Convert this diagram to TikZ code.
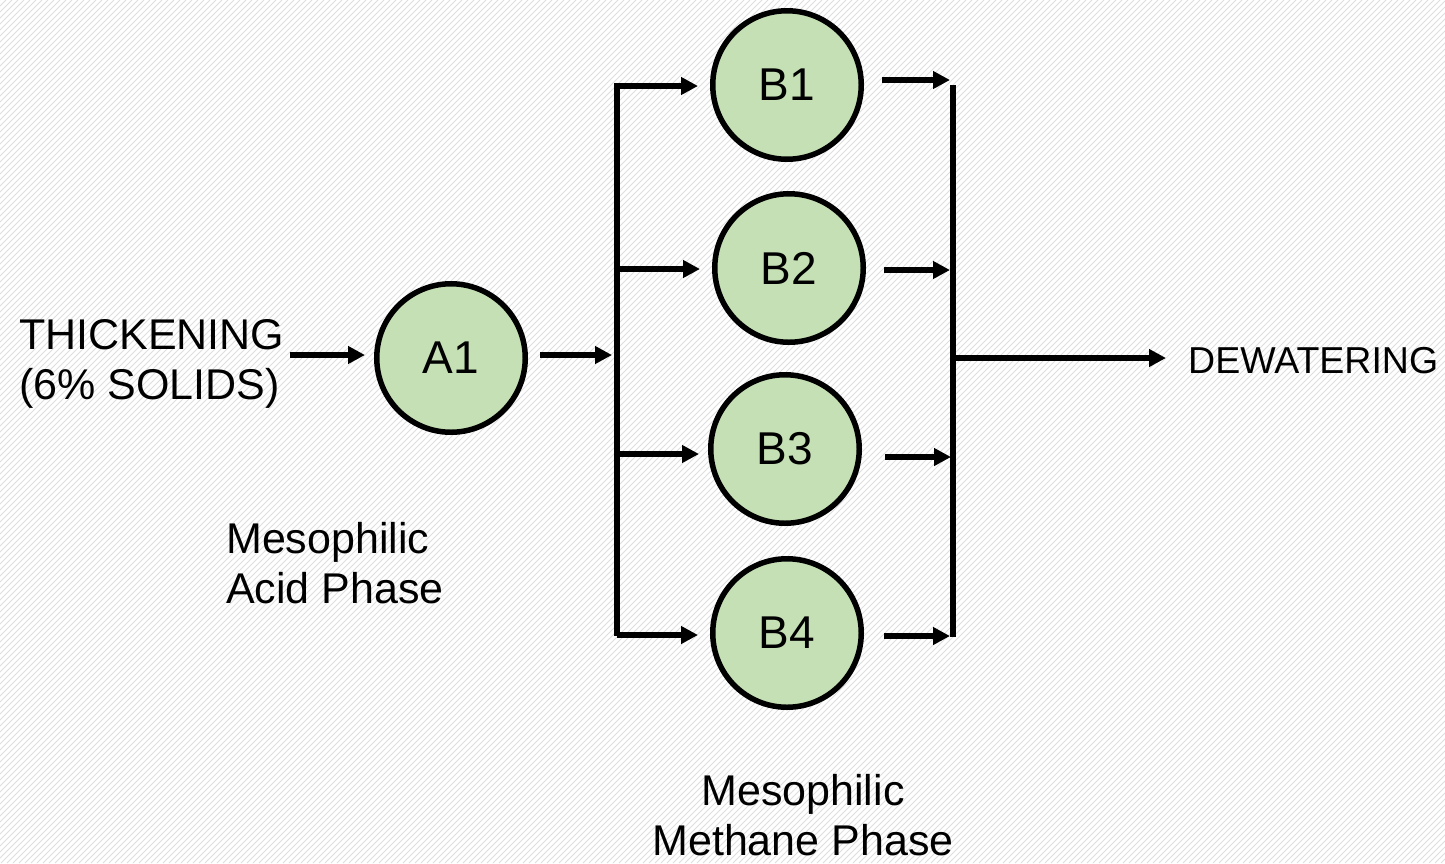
\documentclass[tikz,border=0pt]{standalone}
\usepackage{fontspec}
\setmainfont{Liberation Sans}
\usetikzlibrary{arrows.meta}
\definecolor{tankgreen}{HTML}{C5E0B4}
\begin{document}
\begin{tikzpicture}[x=1pt,y=-1pt,
  tank/.style={circle,draw=black,line width=5.5pt,fill=tankgreen,minimum size=148.5pt,inner sep=0pt,font=\fontsize{46}{55}\selectfont},
  flow/.style={line width=5.5pt,-{Triangle[length=17pt,width=17pt]}},
  bus/.style={line width=5.5pt,line cap=rect},
  lbl/.style={inner sep=0pt,font=\fontsize{43}{50}\selectfont},
  hatch/.style={black!13,line width=1pt}]
\useasboundingbox (0,0) rectangle (1445,863);
\begin{scope}
  \clip (0,0) rectangle (1445,863);
  \foreach \c in {0,6,...,2310} \draw[hatch] (\c,0) -- (\c-863,863);
\end{scope}
% tanks
\node[tank] (A1) at (451,358) {A1};
\node[tank] (B1) at (787,85) {B1};
\node[tank] (B2) at (789,268) {B2};
\node[tank] (B3) at (785,449) {B3};
\node[tank] (B4) at (787,633) {B4};
% texts
\node[lbl,anchor=west,align=left] (thick) at (19,364) {THICKENING\\(6\% SOLIDS)};
\node[lbl,anchor=west,align=left] (acid) at (226,563) {Mesophilic\\Acid Phase};
\node[lbl,align=center] (meth) at (803,815) {Mesophilic\\Methane Phase};
\node[inner sep=0pt,anchor=west,font=\fontsize{37.5}{45}\selectfont] (dew) at (1188,360.5) {DEWATERING};
% bus coordinates
\coordinate (Ltop) at (617,85.5);
\coordinate (Lbot) at (617,633.5);
\coordinate (Rtop) at (953,88);
\coordinate (Rbot) at (953,634);
\coordinate (l1) at (617,86);
\coordinate (l2) at (617,269);
\coordinate (l3) at (617,454);
\coordinate (l4) at (617,635);
\coordinate (r1) at (950,80);
\coordinate (r2) at (950,270);
\coordinate (r3) at (951,457);
\coordinate (r4) at (950,636);
\coordinate (a1i) at (0,355);
\coordinate (a1o) at (612,355);
\coordinate (dw) at (953,358);
% buses
\draw[bus] (Ltop) -- (Lbot);
\draw[bus] (Rtop) -- (Rbot);
% input
\draw[flow,shorten <=5pt,shorten >=9pt] (thick.east |- a1i) -- (a1i -| A1.west);
\draw[flow,shorten <=12pt] (a1o -| A1.east) -- (a1o);
% branches in
\draw[flow,shorten >=12pt] (l1) -- (l1 -| B1.west);
\draw[flow,shorten >=12pt] (l2) -- (l2 -| B2.west);
\draw[flow,shorten >=9pt] (l3) -- (l3 -| B3.west);
\draw[flow,shorten >=12pt] (l4) -- (l4 -| B4.west);
% branches out
\draw[flow,shorten <=18pt] (r1 -| B1.east) -- (r1);
\draw[flow,shorten <=18pt] (r2 -| B2.east) -- (r2);
\draw[flow,shorten <=23pt] (r3 -| B3.east) -- (r3);
\draw[flow,shorten <=20pt] (r4 -| B4.east) -- (r4);
% output
\draw[flow,shorten >=22pt] (dw) -- (dw -| dew.west);
\end{tikzpicture}
\end{document}
